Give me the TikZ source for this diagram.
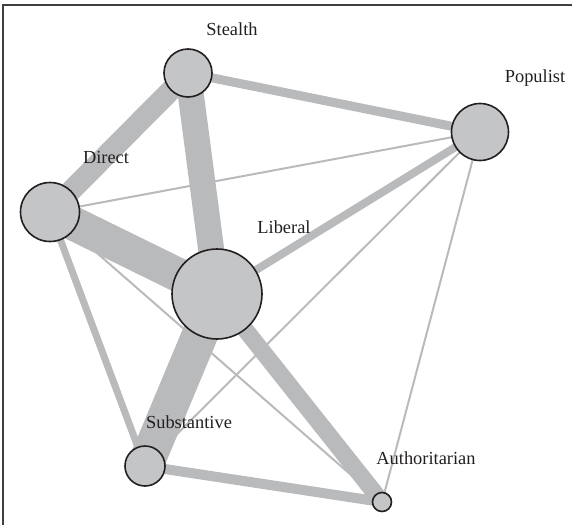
\documentclass[tikz,border=0pt]{standalone}
\usepackage{fontspec}
\setmainfont{Liberation Serif}
\usepackage{tikz}
\usetikzlibrary{backgrounds}
\definecolor{tiegray}{RGB}{185,186,188}
\definecolor{partygray}{RGB}{196,197,199}
\definecolor{inkblack}{RGB}{35,31,32}

\begin{document}
\begin{tikzpicture}[x=1pt,y=-1pt,
    party/.style={circle,draw=inkblack,line width=1.6pt,fill=partygray,inner sep=0pt},
    tie/.style={draw=tiegray},
    partylabel/.style={font=\fontsize{18.4}{20}\selectfont,text=inkblack,inner sep=0pt,anchor=base}]
  \useasboundingbox (0,0) rectangle (572,525);
  % Frame (top and left only)
  \draw[line width=2pt, black!75] (3,525) -- (3,5) -- (572,5);

  % Party types
  \node[party, minimum size=48pt] (stealth) at (188,73) {};
  \node[party, minimum size=57pt] (populist) at (480,132) {};
  \node[party, minimum size=59pt] (direct) at (50,212) {};
  \node[party, minimum size=90pt] (liberal) at (217,294) {};
  \node[party, minimum size=40pt] (substantive) at (145,466) {};
  \node[party, minimum size=19pt] (authoritarian) at (382,502) {};

  % Labels, up and to the right of each circle
  \node[partylabel] (stealthlabel) at (232,35) {Stealth};
  \node[partylabel] (populistlabel) at (535,82) {Populist};
  \node[partylabel] (directlabel) at (106,163) {Direct};
  \node[partylabel] (liberallabel) at (284,233) {Liberal};
  \node[partylabel] (substantivelabel) at (189,428) {Substantive};
  \node[partylabel] (authoritarianlabel) at (426,464) {Authoritarian};

  % Ties, width by strength
  \begin{pgfonlayer}{background}
    \draw[tie, line width=34pt] (direct.center) -- (liberal.center);
    \draw[tie, line width=36pt] (liberal.center) -- (substantive.center);
    \draw[tie, line width=26pt] (stealth.center) -- (liberal.center);
    \draw[tie, line width=21pt] (direct.center) -- (stealth.center);
    \draw[tie, line width=17pt] (liberal.center) -- (authoritarian.center);
    \draw[tie, line width=10pt] (substantive.center) -- (authoritarian.center);
    \draw[tie, line width=9pt] (stealth.center) -- (populist.center);
    \draw[tie, line width=8pt] (liberal.center) -- (populist.center);
    \draw[tie, line width=7pt] (direct.center) -- (substantive.center);
    % weak ties
    \draw[tie, line width=2pt] (direct.center) -- (populist.center);
    \draw[tie, line width=2pt] (substantive.center) -- (populist.center);
    \draw[tie, line width=2pt] (direct.center) -- (authoritarian.center);
    \draw[tie, line width=2pt] (populist.center) -- (authoritarian.center);
  \end{pgfonlayer}
\end{tikzpicture}
\end{document}
